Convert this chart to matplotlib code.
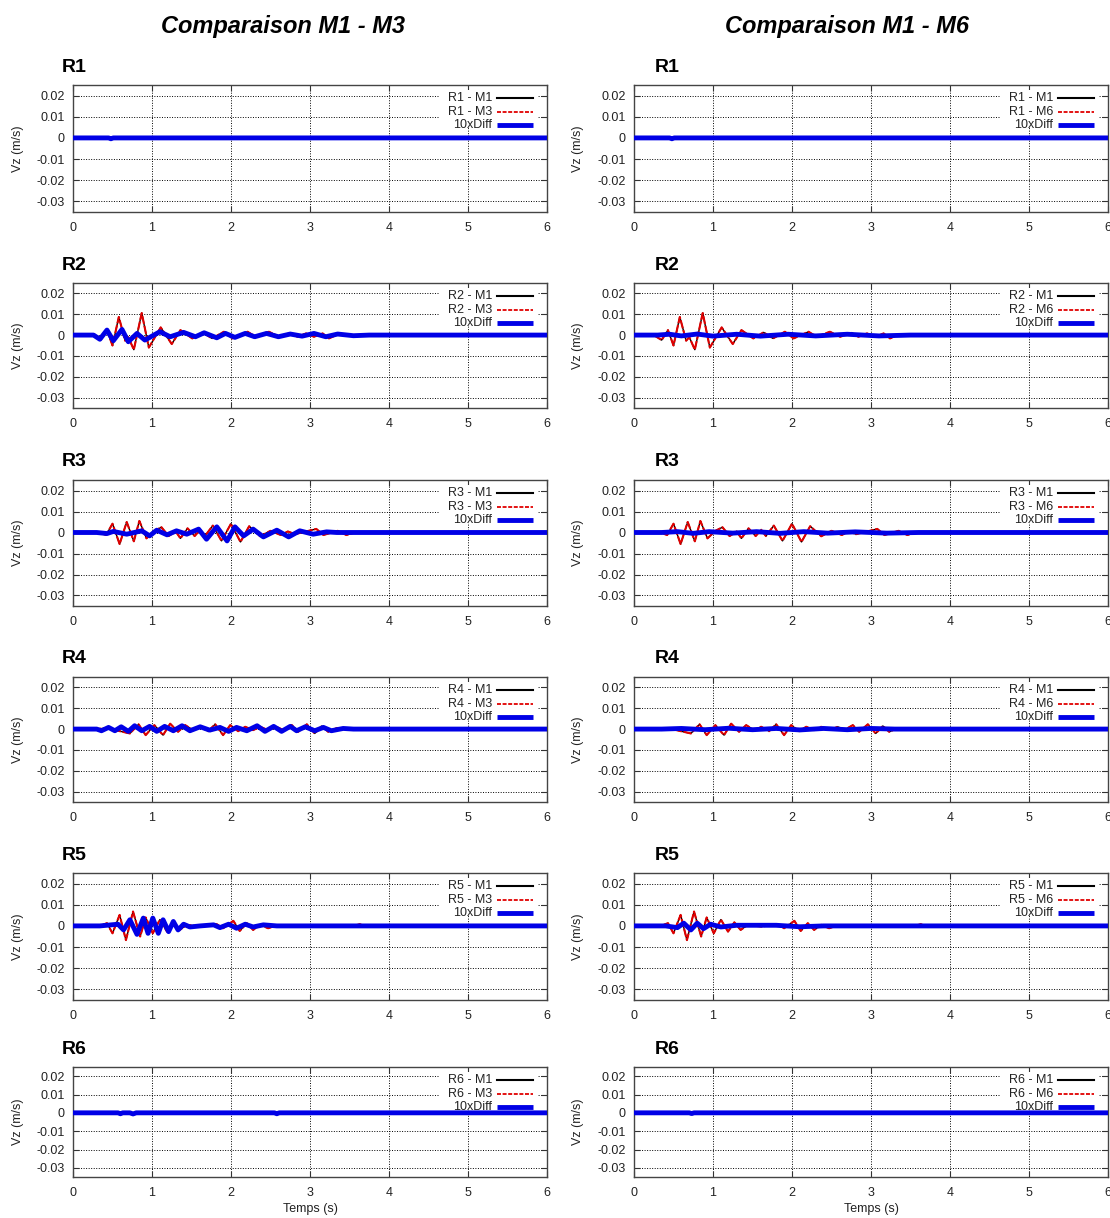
import numpy as np
import matplotlib.pyplot as plt

plt.rcParams['font.family'] = ['Liberation Sans', 'DejaVu Sans']

# ---- data (t in s, Vz in m/s) ----
# M1 traces; M3 and M6 lie on top of them at this scale
r1_t = [0.0, 0.45, 0.48, 0.51, 6.0]
r1_m1 = [0.0, 0.0, -0.0003, 0.0, 0.0]

r2_t = [0.0, 0.25, 0.35, 0.43, 0.50, 0.58, 0.66, 0.70, 0.77, 0.87, 0.96, 1.11, 1.25, 1.36, 1.51, 1.64,
        1.76, 1.91, 2.02, 2.21, 2.31, 2.48, 2.61, 2.76, 2.84, 2.95, 3.05, 3.16, 3.24, 3.35, 3.49, 6.0]
r2_m1 = [0, 0, -0.0024, 0.0024, -0.0050, 0.0087, -0.0027, -0.0010, -0.0070, 0.0106, -0.0060, 0.0037,
         -0.0043, 0.0024, -0.0016, 0.0013, -0.0016, 0.0016, -0.0016, 0.0016, -0.0008, 0.0016, -0.0008,
         0.0011, -0.0008, 0.0008, -0.0008, 0.0008, -0.0016, 0.0003, 0, 0]

r3_t = [0, 0.33, 0.42, 0.50, 0.59, 0.68, 0.77, 0.84, 0.93, 1.03, 1.12, 1.21, 1.30, 1.36, 1.45, 1.54,
        1.61, 1.67, 1.77, 1.88, 2.00, 2.12, 2.23, 2.37, 2.50, 2.63, 2.72, 2.81, 3.08, 3.17, 3.35, 3.46,
        3.57, 6]
r3_m1 = [0, 0, -0.0012, 0.0042, -0.0055, 0.0050, -0.0042, 0.0055, -0.0028, 0.0008, 0.0025, -0.0017,
         0.0005, -0.0028, 0.0020, -0.0017, 0.0013, -0.0017, 0.0033, -0.0040, 0.0042, -0.0045, 0.0030,
         -0.0018, 0.0008, -0.0012, 0.0005, -0.0008, 0.0017, -0.0012, 0.0008, -0.0012, 0, 0]

r4_t = [0, 0.30, 0.43, 0.57, 0.72, 0.83, 0.92, 1.03, 1.14, 1.23, 1.33, 1.42, 1.52, 1.61, 1.71, 1.80,
        1.90, 1.99, 2.09, 2.18, 2.28, 2.37, 2.47, 2.58, 2.66, 2.77, 2.85, 2.96, 3.06, 3.15, 3.23, 3.34,
        3.46, 6]
r4_m1 = [0, 0, 0.0005, -0.0008, -0.0021, 0.0023, -0.0029, 0.0019, -0.0029, 0.0026, -0.0013, 0.0019,
         -0.0005, 0.0011, -0.0010, 0.0023, -0.0029, 0.0019, -0.0010, 0.0011, -0.0005, 0.0011, -0.0005,
         0.0011, -0.0005, 0.0019, -0.0013, 0.0023, -0.0021, 0.0015, -0.0013, 0.0005, 0, 0]

r5_t = [0, 0.34, 0.43, 0.50, 0.59, 0.67, 0.76, 0.85, 0.92, 1.01, 1.10, 1.19, 1.27, 1.35, 1.44, 1.61,
        1.73, 1.82, 1.90, 2.03, 2.11, 2.20, 2.28, 2.37, 2.47, 2.58, 2.79, 3.55, 3.63, 3.72, 3.88, 4.05, 6]
r5_m1 = [0, 0, 0.0013, -0.0035, 0.0052, -0.0067, 0.0068, -0.0050, 0.0040, -0.0035, 0.0030, -0.0027,
         0.0017, -0.0019, 0.0005, -0.0003, 0.0003, 0.0008, -0.0011, 0.0024, -0.0024, 0.0013, -0.0019,
         0.0005, -0.0011, 0.0003, 0, 0, 0.0008, -0.0005, 0.0003, 0, 0]

r6_t = [0.0, 6.0]
r6_m1 = [0.0, 0.0]

# 10 x (M3 - M1)
d13_r1_t = [0, 0.45, 0.48, 0.51, 6]
d13_r1_v = [0, 0, -0.0004, 0, 0]
d13_r2_t = [0, 0.26, 0.34, 0.43, 0.51, 0.62, 0.70, 0.81, 0.91, 1.10, 1.23, 1.40, 1.55, 1.66, 1.82,
            1.93, 2.05, 2.18, 2.30, 2.45, 2.60, 2.75, 2.90, 3.05, 3.20, 3.35, 3.55, 3.75, 6]
d13_r2_v = [0, 0, -0.0020, 0.0024, -0.0027, 0.0027, -0.0032, 0.0008, -0.0024, 0.0016, -0.0008, 0.0013,
            -0.0008, 0.0011, -0.0013, 0.0008, -0.0011, 0.0008, -0.0008, 0.0008, -0.0008, 0.0005,
            -0.0005, 0.0008, -0.0008, 0.0005, -0.0003, 0, 0]
d13_r3_t = [0, 0.30, 0.43, 0.51, 0.68, 0.87, 0.97, 1.06, 1.19, 1.31, 1.44, 1.59, 1.69, 1.82, 1.95,
            2.05, 2.16, 2.28, 2.41, 2.58, 2.73, 2.87, 3.04, 3.21, 3.34, 6]
d13_r3_v = [0, 0, -0.0005, 0.0005, -0.0008, 0.0008, -0.0016, 0.0011, -0.0011, 0.0008, -0.0008, 0.0016,
            -0.0032, 0.0027, -0.0040, 0.0027, -0.0016, 0.0016, -0.0021, 0.0011, -0.0021, 0.0008,
            -0.0008, 0.0003, 0, 0]
d13_r4_t = [0, 0.30, 0.36, 0.45, 0.53, 0.61, 0.70, 0.78, 0.87, 0.97, 1.06, 1.16, 1.27, 1.38, 1.48,
            1.61, 1.73, 1.86, 1.97, 2.07, 2.20, 2.33, 2.43, 2.54, 2.64, 2.75, 2.83, 2.94, 3.06, 3.17,
            3.27, 3.42, 3.55, 6]
d13_r4_v = [0, 0, -0.0008, 0.0008, -0.0008, 0.0011, -0.0011, 0.0016, -0.0008, 0.0013, -0.0011, 0.0013,
            -0.0008, 0.0016, -0.0008, 0.0011, -0.0005, 0.0008, -0.0011, 0.0008, -0.0008, 0.0016,
            -0.0011, 0.0013, -0.0011, 0.0013, -0.0008, 0.0011, -0.0008, 0.0008, -0.0008, 0.0003, 0, 0]
d13_r5_t = [0, 0.34, 0.57, 0.64, 0.72, 0.81, 0.89, 0.95, 1.01, 1.08, 1.14, 1.21, 1.27, 1.33, 1.40,
            1.48, 1.61, 1.78, 1.86, 1.97, 2.07, 2.18, 2.28, 2.41, 2.58, 6]
d13_r5_v = [0, 0, 0.0008, -0.0019, 0.0029, -0.0040, 0.0037, -0.0035, 0.0037, -0.0035, 0.0029, -0.0027,
            0.0021, -0.0019, 0.0008, -0.0005, 0, 0.0005, -0.0008, 0.0008, -0.0011, 0.0008, -0.0005,
            0.0005, 0, 0]
d13_r6_t = [0, 0.57, 0.60, 0.63, 0.72, 0.76, 0.80, 2.55, 2.58, 2.61, 6]
d13_r6_v = [0, 0, -0.0005, 0, 0, -0.0006, 0, 0, -0.0005, 0, 0]

# 10 x (M6 - M1)
d16_r1_t = [0, 0.45, 0.48, 0.51, 6]
d16_r1_v = [0, 0, -0.0004, 0, 0]
d16_r2_t = [0, 0.30, 0.45, 0.60, 0.80, 1.00, 1.30, 1.60, 1.95, 2.30, 2.70, 3.10, 3.50, 6]
d16_r2_v = [0, 0, 0.0004, -0.0004, 0.0005, -0.0005, 0.0004, -0.0005, 0.0004, -0.0004, 0.0004,
            -0.0004, 0, 0]
d16_r3_t = [0, 0.35, 0.55, 0.75, 0.95, 1.25, 1.55, 1.85, 2.15, 2.45, 2.80, 3.20, 3.60, 6]
d16_r3_v = [0, 0, 0.0004, -0.0004, 0.0004, -0.0003, 0.0004, -0.0004, 0.0004, -0.0003, 0.0003,
            -0.0003, 0, 0]
d16_r4_t = [0, 0.35, 0.60, 0.90, 1.20, 1.50, 1.80, 2.10, 2.40, 2.70, 3.00, 3.30, 6]
d16_r4_v = [0, 0, 0.0003, -0.0003, 0.0004, -0.0003, 0.0003, -0.0004, 0.0003, -0.0003, 0.0003, 0, 0]
d16_r5_t = [0, 0.40, 0.55, 0.63, 0.72, 0.80, 0.88, 0.97, 1.10, 1.30, 1.80, 2.10, 2.40, 6]
d16_r5_v = [0, 0, -0.0008, 0.0013, -0.0019, 0.0013, -0.0013, 0.0008, -0.0005, 0.0003, 0.0003,
            -0.0004, 0, 0]
d16_r6_t = [0, 0.70, 0.73, 0.76, 6]
d16_r6_v = [0, 0, -0.0004, 0, 0]

receivers = ['R1', 'R2', 'R3', 'R4', 'R5', 'R6']
models = ['M3', 'M6']
m1_traces = [(r1_t, r1_m1), (r2_t, r2_m1), (r3_t, r3_m1), (r4_t, r4_m1), (r5_t, r5_m1), (r6_t, r6_m1)]
diffs = {
    'M3': [(d13_r1_t, d13_r1_v), (d13_r2_t, d13_r2_v), (d13_r3_t, d13_r3_v),
           (d13_r4_t, d13_r4_v), (d13_r5_t, d13_r5_v), (d13_r6_t, d13_r6_v)],
    'M6': [(d16_r1_t, d16_r1_v), (d16_r2_t, d16_r2_v), (d16_r3_t, d16_r3_v),
           (d16_r4_t, d16_r4_v), (d16_r5_t, d16_r5_v), (d16_r6_t, d16_r6_v)],
}

xticks = [0, 1, 2, 3, 4, 5, 6]
yticks = [-0.03, -0.02, -0.01, 0, 0.01, 0.02]
ytick_labels = ['-0.03', '-0.02', '-0.01', '0', '0.01', '0.02']

# ---- layout (pixels) ----
W, H = 1110, 1218
box_top = [85, 283, 480, 677, 873, 1067]
box_bot = [212, 408, 606, 802, 1000, 1177]
col_left = [73, 634]
box_w = 474
lab_left = [62, 655]
title_x = [283, 847]
ylab_x = [18, 578]

BLACK = '#000000'
RED = '#e00000'
BLUE = '#0000e6'
RED_DASH = (4.0, 0.8)

fig = plt.figure(figsize=(W / 100, H / 100), dpi=100)


def add_key(ax, labels, h_px):
    fr = lambda p: 1 - p / h_px
    ax.add_patch(plt.Rectangle((0.775, fr(43)), 0.205, fr(5) - fr(43), transform=ax.transAxes,
                               facecolor='white', edgecolor='none', zorder=2))
    styles = [dict(color=BLACK, lw=1.5), dict(color=RED, lw=1.3, dashes=(2.2, 0.9)),
              dict(color=BLUE, lw=3.5, solid_capstyle='butt')]
    for lab, off, st in zip(labels, [13, 27, 40], styles):
        ax.text(0.884, fr(off), lab, transform=ax.transAxes, ha='right', va='center',
                fontsize=9, color='#222222', zorder=7)
        ax.plot([0.895, 0.970], [fr(off), fr(off)], transform=ax.transAxes, zorder=7, **st)


for c, mod in enumerate(models):
    fig.text(title_x[c] / W, 1 - 27 / H, 'Comparaison M1 - ' + mod, ha='center', va='center',
             fontsize=17, fontweight='bold', fontstyle='italic')
    for r, rec in enumerate(receivers):
        top, bot = box_top[r], box_bot[r]
        h_px = bot - top
        ax = fig.add_axes([col_left[c] / W, 1 - bot / H, box_w / W, h_px / H])
        t, m1 = m1_traces[r]
        dt, dv = diffs[mod][r]
        ax.plot(t, m1, color=BLACK, lw=1.0, zorder=3)
        ax.plot(t, m1, color=RED, lw=1.5, dashes=RED_DASH, zorder=4)
        ax.plot(dt, np.array(dv), color=BLUE, lw=3.5, zorder=5)

        ax.set_xlim(0, 6)
        ax.set_ylim(-0.035, 0.025)
        ax.set_xticks(xticks)
        ax.set_xticklabels([str(v) for v in xticks])
        ax.set_yticks(yticks)
        ax.set_yticklabels(ytick_labels)
        ax.grid(True, color='black', linestyle=(0, (1, 1.6)), lw=0.7, zorder=1)
        ax.tick_params(direction='in', length=4, width=0.8, top=True, right=True,
                       labelsize=9, colors='#333333', labelcolor='#222222')
        ax.tick_params(axis='x', pad=7)
        ax.tick_params(axis='y', pad=6)
        for s in ax.spines.values():
            s.set_color('#444444')
            s.set_linewidth(1.0)

        add_key(ax, [rec + ' - M1', rec + ' - ' + mod, '10xDiff'], h_px)

        fig.text(lab_left[c] / W, 1 - (top - 18) / H, rec, ha='left', va='center',
                 fontsize=14, fontweight='bold')
        fig.text(ylab_x[c] / W, 1 - (top + bot) / 2 / H, 'Vz (m/s)', rotation=90,
                 ha='center', va='center', fontsize=9, color='#222222')

    fig.text((col_left[c] + box_w / 2) / W, 1 - 1209 / H, 'Temps (s)', ha='center', va='center',
             fontsize=9, color='#222222')

fig.savefig('out.png', dpi=100)
